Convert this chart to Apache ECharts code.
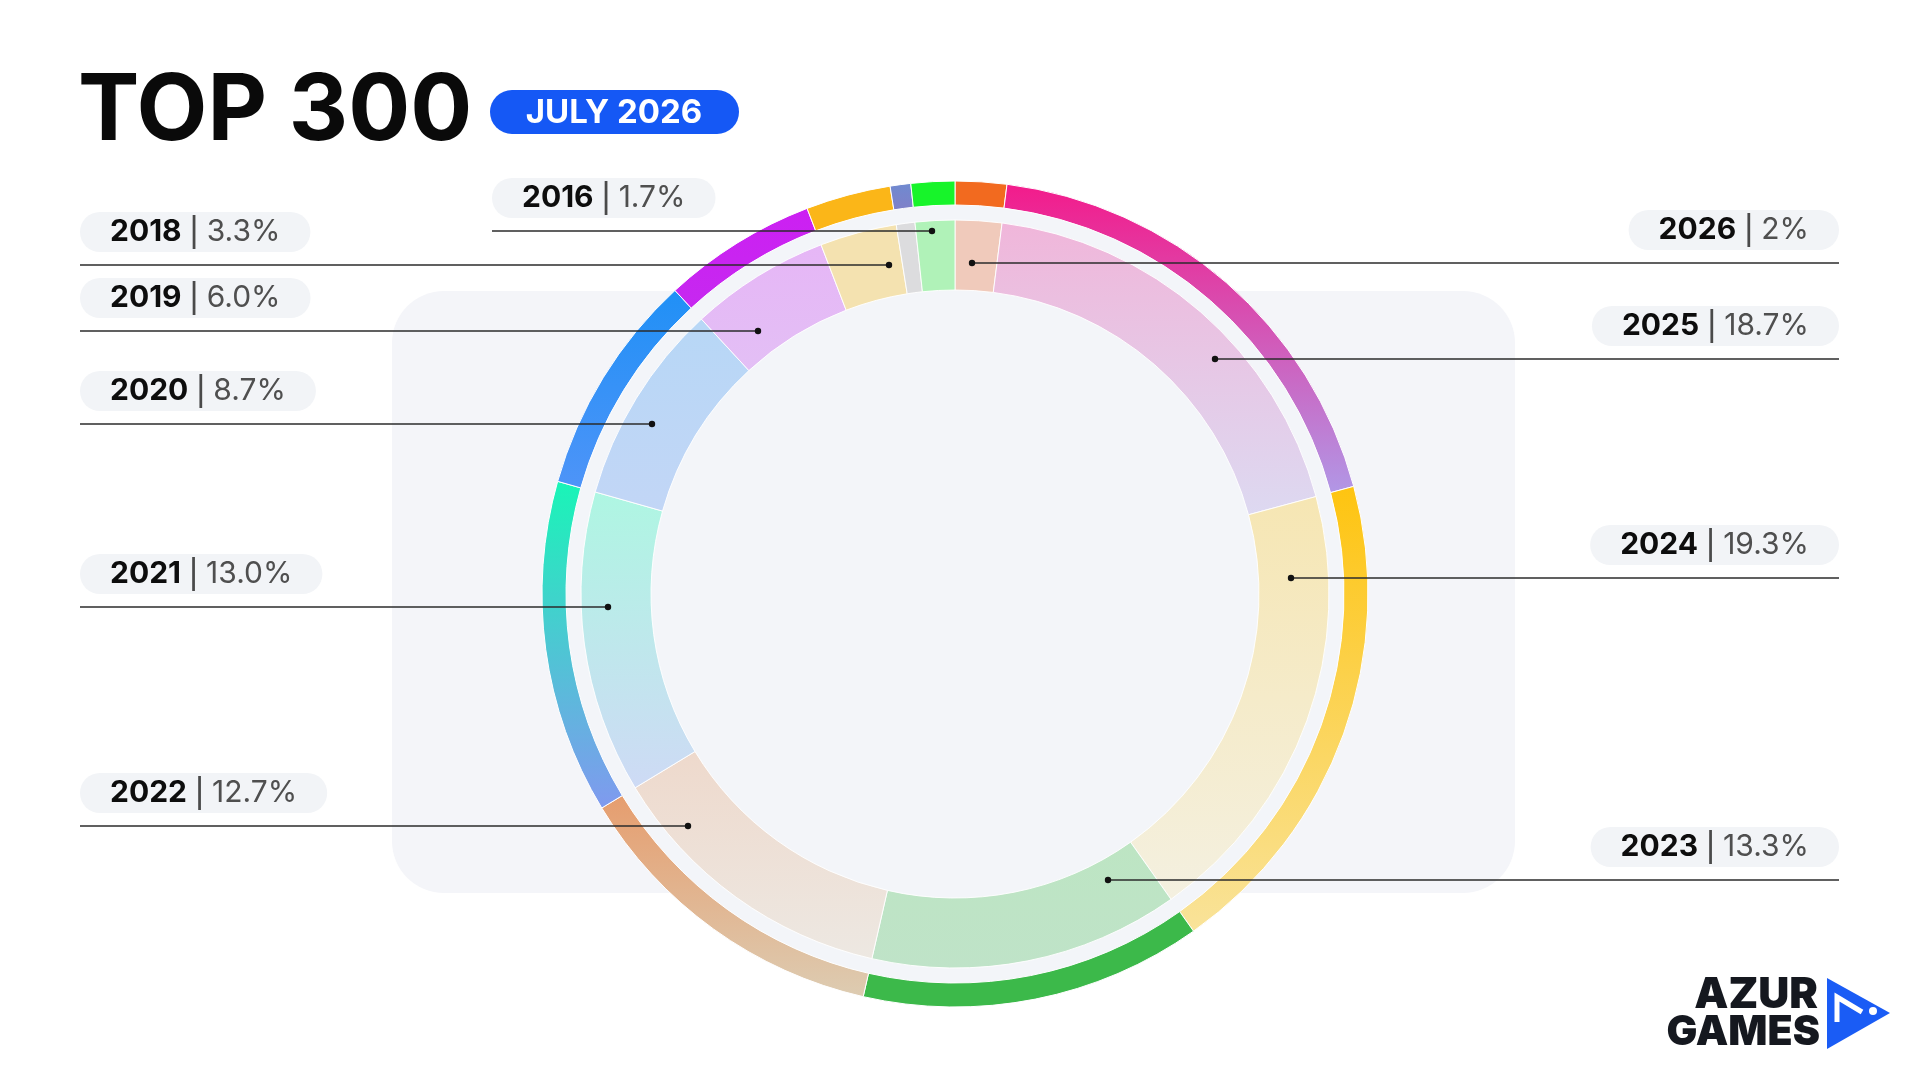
<!DOCTYPE html>
<html>
<head>
<meta charset="utf-8">
<title>TOP 300 - July 2026</title>
<script src="https://cdn.jsdelivr.net/npm/echarts@6/dist/echarts.min.js"></script>
<style>
  html, body { margin: 0; padding: 0; background: #ffffff; }
  #chart { width: 1920px; height: 1080px; }
</style>
</head>
<body>
<div id="chart"></div>
<script>
// release years, clockwise from 12 o'clock
const years = ['2026', '2025', '2024', '2023', '2022', '2021', '2020', '2019', '2018', '2017', '2016'];
const shares = [2, 18.7, 19.3, 13.3, 12.7, 13.0, 8.7, 6.0, 3.3, 0.8, 1.7];
const shareLabels = ['2%', '18.7%', '19.3%', '13.3%', '12.7%', '13.0%', '8.7%', '6.0%', '3.3%', '', '1.7%'];

// ring colours (top -> bottom of each slice)
const outerTop = ['#f26a1f', '#f31b8b', '#fec410', '#3cb94a', '#e69d6e', '#19f5b7', '#2090f6', '#cc20f2', '#fbb618', '#6f8ad0', '#17f42a'];
const outerBottom = ['#f26a1f', '#b197e6', '#f9e39a', '#3cb94a', '#ddccb2', '#8099ef', '#4e94f8', '#c628f0', '#fbb618', '#8080c8', '#17f42a'];
const innerTop = ['#f0cabb', '#f0b6da', '#f6e6b3', '#bde5c3', '#eed9cc', '#aef6e2', '#b7d7f6', '#e6b6f6', '#f4e2b0', '#dcdcde', '#b0f2b8'];
const innerBottom = ['#f0cabb', '#ddd9f1', '#f4f0e0', '#bfe3c8', '#ede8e2', '#cedaf5', '#c2d6f6', '#e3bff5', '#f4e2b0', '#dcdcde', '#b0f2b8'];

const CX = 955, CY = 594;

// label pill placement and leader dot, per year
const labelPlaces = {
  '2026': { side: 'right', x: 1839, top: 210, dotX: 972 },
  '2025': { side: 'right', x: 1839, top: 306, dotX: 1215 },
  '2024': { side: 'right', x: 1839, top: 525, dotX: 1291 },
  '2023': { side: 'right', x: 1839, top: 827, dotX: 1108 },
  '2022': { side: 'left', x: 80, top: 773, dotX: 688 },
  '2021': { side: 'left', x: 80, top: 554, dotX: 608 },
  '2020': { side: 'left', x: 80, top: 371, dotX: 652 },
  '2019': { side: 'left', x: 80, top: 278, dotX: 758 },
  '2018': { side: 'left', x: 80, top: 212, dotX: 889 },
  '2016': { side: 'left', x: 492, top: 178, dotX: 932 }
};
const LINE_GAP = 53;
const FONT = 'Inter, "Noto Sans", sans-serif';

function vGrad(a, b) {
  return new echarts.graphic.LinearGradient(0, 0, 0, 1, [
    { offset: 0, color: a },
    { offset: 1, color: b }
  ]);
}

const outerData = years.map((y, i) => ({
  name: y,
  value: shares[i],
  itemStyle: { color: vGrad(outerTop[i], outerBottom[i]) }
}));

const innerData = years.map((y, i) => {
  const item = {
    name: y,
    value: shares[i],
    itemStyle: { color: vGrad(innerTop[i], innerBottom[i]) }
  };
  if (!labelPlaces[y]) item.label = { show: false };
  return item;
});

// leader lines + dots
const leaders = [];
Object.keys(labelPlaces).forEach(y => {
  const p = labelPlaces[y];
  const ly = p.top + LINE_GAP;
  leaders.push({
    type: 'line', z: 20, silent: true,
    shape: { x1: p.x, y1: ly, x2: p.dotX, y2: ly },
    style: { stroke: '#2b2b2b', lineWidth: 1.4 }
  });
  leaders.push({
    type: 'circle', z: 21, silent: true,
    shape: { cx: p.dotX, cy: ly, r: 3.2 },
    style: { fill: '#111' }
  });
});

const chart = echarts.init(document.getElementById('chart'), null, { renderer: 'canvas' });

chart.setOption({
  backgroundColor: '#ffffff',
  animation: false,
  graphic: [
    {
      type: 'rect', z: 0, silent: true,
      shape: { x: 392, y: 291, width: 1123, height: 602, r: 52 },
      style: { fill: '#f4f5f9' }
    },
    {
      type: 'circle', z: 1, silent: true,
      shape: { cx: CX, cy: CY, r: 390 },
      style: { fill: '#f3f5f9' }
    },
    {
      type: 'text', z: 5, left: 78, top: 66,
      style: { text: 'TOP 300', font: '700 92px ' + FONT, fill: '#0a0a0a' }
    },
    {
      type: 'rect', z: 5,
      shape: { x: 490, y: 90, width: 249, height: 44, r: 22 },
      style: { fill: '#1558f5' }
    },
    {
      type: 'text', z: 6, x: 614, y: 113,
      style: { text: 'JULY 2026', font: '700 33px ' + FONT, fill: '#ffffff', align: 'center', verticalAlign: 'middle' }
    },
    {
      type: 'text', z: 6, x: 1818, y: 995,
      style: { text: 'AZUR', font: '900 43px ' + FONT, fill: '#15181f', align: 'right', verticalAlign: 'middle' }
    },
    {
      type: 'text', z: 6, x: 1820, y: 1033,
      style: { text: 'GAMES', font: '900 41px ' + FONT, fill: '#15181f', align: 'right', verticalAlign: 'middle' }
    },
    {
      type: 'polygon', z: 6,
      shape: { points: [[1827, 978], [1890, 1013], [1827, 1049]] },
      style: { fill: '#1a5cf5' }
    },
    {
      type: 'polyline', z: 7,
      shape: { points: [[1837, 1022], [1837, 997], [1862, 1012]] },
      style: { stroke: '#ffffff', lineWidth: 5, fill: null }
    },
    {
      type: 'circle', z: 7,
      shape: { cx: 1873, cy: 1011, r: 4 },
      style: { fill: '#ffffff' }
    }
  ].concat(leaders),
  series: [
    {
      type: 'pie',
      name: 'outer',
      z: 2,
      silent: true,
      center: [CX, CY],
      radius: [389, 413],
      startAngle: 90,
      clockwise: true,
      avoidLabelOverlap: false,
      label: { show: false },
      labelLine: { show: false },
      itemStyle: { borderColor: '#ffffff', borderWidth: 1 },
      data: outerData
    },
    {
      type: 'pie',
      name: 'inner',
      z: 3,
      silent: true,
      center: [CX, CY],
      radius: [304, 374],
      startAngle: 90,
      clockwise: true,
      avoidLabelOverlap: false,
      itemStyle: { borderColor: 'rgba(255,255,255,0.9)', borderWidth: 1 },
      label: {
        show: true,
        position: 'outside',
        backgroundColor: '#f2f4f7',
        borderRadius: 20,
        padding: [5, 30],
        formatter: p => '{y|' + p.name + '}{s||}{v|' + shareLabels[p.dataIndex] + '}',
        rich: {
          y: { fontFamily: FONT, fontWeight: 700, fontSize: 30, color: '#0d0d0d', lineHeight: 30 },
          s: { fontFamily: '"DejaVu Sans", sans-serif', fontWeight: 400, fontSize: 33, color: '#4a4a4a', lineHeight: 30, padding: [0, 7] },
          v: { fontFamily: FONT, fontWeight: 400, fontSize: 30, color: '#4f4f4f', lineHeight: 30 }
        }
      },
      labelLine: { show: false },
      labelLayout: params => {
        const p = labelPlaces[years[params.dataIndex]];
        if (!p) return {};
        return { x: p.x, y: p.top, align: p.side, verticalAlign: 'top' };
      },
      data: innerData
    }
  ]
});
</script>
</body>
</html>
